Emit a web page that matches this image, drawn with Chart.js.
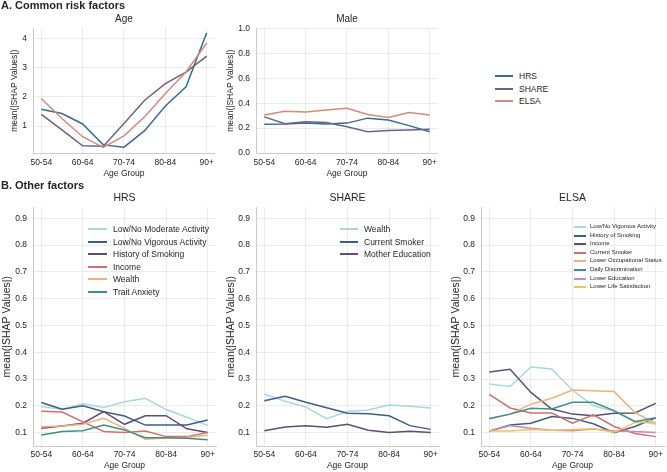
<!DOCTYPE html>
<html><head><meta charset="utf-8">
<script src="https://cdn.jsdelivr.net/npm/chart.js@4/dist/chart.umd.min.js"></script>
<style>
html,body{margin:0;padding:0;background:#fff;}
body{width:667px;height:472px;position:relative;overflow:hidden;font-family:"Liberation Sans",Arial,Helvetica,sans-serif;color:#262626;}
canvas{position:absolute;}
.hd{position:absolute;font-weight:bold;font-size:11px;line-height:11px;white-space:nowrap;z-index:5;}
.lg{position:absolute;white-space:nowrap;z-index:5;}
</style></head><body>
<div class="hd" style="left:1px;top:0px">A. Common risk factors</div>
<div class="hd" style="left:1px;top:180px">B. Other factors</div>
<canvas id="cAge"></canvas>
<canvas id="cMale"></canvas>
<canvas id="cHRS"></canvas>
<canvas id="cSHARE"></canvas>
<canvas id="cELSA"></canvas>
<script>
// ---------- data ----------
const ageGroups = ['50-54','55-59','60-64','65-69','70-74','75-79','80-84','85-89','90+'];
const xTickIdx = [0, 2, 4, 6, 8];

const studies = ['HRS', 'SHARE', 'ELSA'];
const studyColors = ['#3b6b8f', '#6b6385', '#d48b7e'];

const ageHRS   = [1.58, 1.43, 1.07, 0.35, 0.27, 0.84, 1.69, 2.35, 4.21];
const ageSHARE = [1.40, 0.87, 0.32, 0.30, 1.09, 1.89, 2.46, 2.86, 3.41];
const ageELSA  = [1.95, 1.26, 0.63, 0.26, 0.66, 1.32, 2.12, 2.86, 3.86];

const maleHRS   = [0.230, 0.233, 0.240, 0.233, 0.240, 0.280, 0.265, 0.220, 0.170];
const maleSHARE = [0.290, 0.235, 0.250, 0.245, 0.210, 0.170, 0.180, 0.185, 0.190];
const maleELSA  = [0.305, 0.335, 0.330, 0.345, 0.360, 0.310, 0.285, 0.325, 0.305];

const ageTicks   = [1, 2, 3, 4];
const maleTicks  = [0.0, 0.2, 0.4, 0.6, 0.8, 1.0];
const otherTicks = [0.1, 0.2, 0.3, 0.4, 0.5, 0.6, 0.7, 0.8, 0.9];

const palette = ['#a9d6e3', '#3d5e88', '#5d4d78', '#d0706b', '#efb07e', '#3e8e86', '#c48bb8', '#f1c35c'];

const hrsNames = ['Low/No Moderate Activity', 'Low/No Vigorous Activity', 'History of Smoking', 'Income', 'Wealth', 'Trait Anxiety'];
const hrsModerate = [0.197, 0.186, 0.208, 0.194, 0.215, 0.228, 0.186, 0.157, 0.127];
const hrsVigorous = [0.212, 0.187, 0.200, 0.178, 0.162, 0.128, 0.128, 0.128, 0.147];
const hrsSmoking  = [0.116, 0.125, 0.135, 0.178, 0.131, 0.163, 0.163, 0.114, 0.100];
const hrsIncome   = [0.180, 0.177, 0.140, 0.104, 0.100, 0.106, 0.085, 0.085, 0.100];
const hrsWealth   = [0.122, 0.125, 0.131, 0.153, 0.116, 0.075, 0.080, 0.083, 0.090];
const hrsAnxiety  = [0.091, 0.104, 0.107, 0.128, 0.110, 0.081, 0.081, 0.079, 0.073];

const shareNames = ['Wealth', 'Current Smoker', 'Mother Education'];
const shareWealth    = [0.244, 0.217, 0.195, 0.152, 0.179, 0.184, 0.203, 0.198, 0.192];
const shareSmoker    = [0.219, 0.236, 0.213, 0.193, 0.172, 0.170, 0.163, 0.126, 0.112];
const shareMotherEdu = [0.107, 0.121, 0.126, 0.120, 0.131, 0.109, 0.100, 0.105, 0.100];

const elsaNames = ['Low/No Vigorous Activity', 'History of Smoking', 'Income', 'Current Smoker', 'Lower Occupational Status', 'Daily Discrimination', 'Lower Education', 'Lower Life Satisfaction'];
const elsaVigorous = [0.281, 0.272, 0.345, 0.337, 0.258, 0.200, 0.180, 0.143, 0.132];
const elsaSmoking  = [0.105, 0.128, 0.135, 0.160, 0.153, 0.133, 0.100, 0.123, 0.155];
const elsaIncome   = [0.326, 0.336, 0.250, 0.188, 0.169, 0.163, 0.172, 0.173, 0.209];
const elsaCurSmoke = [0.243, 0.192, 0.173, 0.173, 0.135, 0.166, 0.123, 0.097, 0.085];
const elsaOccup    = [0.151, 0.169, 0.206, 0.228, 0.259, 0.256, 0.253, 0.175, 0.133];
const elsaDiscrim  = [0.153, 0.169, 0.191, 0.188, 0.213, 0.213, 0.182, 0.141, 0.155];
const elsaEduc     = [0.105, 0.126, 0.116, 0.109, 0.107, 0.113, 0.106, 0.104, 0.100];
const elsaLifeSat  = [0.106, 0.106, 0.112, 0.109, 0.112, 0.114, 0.101, 0.137, 0.140];

// ---------- style ----------
const FF = '"Liberation Sans", Arial, Helvetica, sans-serif';
const TXT = '#262626';
const GRID = '#ebebeb';
const SPINE = '#cccccc';

// centre each panel title over its plot area (as matplotlib does)
Chart.register({
  id: 'centerTitle',
  afterLayout(chart) {
    const t = chart.titleBlock, a = chart.chartArea;
    if (t && a) { t.left = a.left; t.right = a.right; t.width = a.right - a.left; }
  }
});

function panel(id, left, top, height, title, names, series, colors, yMin, yMax, yTicks, yDec, o) {
  const W = 33, PW = 184, R = 2;
  const cv = document.getElementById(id);
  cv.width = W + PW + R; cv.height = height;
  cv.style.left = left + 'px'; cv.style.top = top + 'px';
  new Chart(cv, {
    type: 'line',
    data: {
      datasets: series.map((s, i) => ({
        label: names[i],
        data: s.map((v, j) => ({ x: j, y: v })),
        borderColor: colors[i], backgroundColor: colors[i],
        borderWidth: 1.5, pointRadius: 0, tension: 0, fill: false, order: -i
      }))
    },
    options: {
      responsive: false, animation: false, devicePixelRatio: 1,
      layout: { padding: { left: 0, right: R, top: 0, bottom: 0 } },
      plugins: {
        legend: { display: false }, tooltip: { enabled: false },
        title: { display: true, text: title, color: TXT,
          font: { family: FF, size: o.tf, weight: 'normal' },
          padding: { top: o.tt, bottom: o.tb } }
      },
      scales: {
        x: {
          type: 'linear', min: -0.4, max: 8.4, bounds: 'data',
          afterBuildTicks: s => { s.ticks = xTickIdx.map(v => ({ value: v })); },
          afterFit: s => { s.height = o.xh; },
          ticks: { callback: v => ageGroups[v], color: TXT, font: { family: FF, size: 8.5 }, padding: o.xp, maxRotation: 0, autoSkip: false },
          grid: { color: GRID, drawTicks: false, lineWidth: 1 },
          border: { color: SPINE, width: 1 },
          title: { display: true, text: 'Age Group', color: TXT, font: { family: FF, size: 8.5 }, padding: { top: 0, bottom: o.xtb } }
        },
        y: {
          type: 'linear', min: yMin, max: yMax, bounds: 'data',
          afterBuildTicks: s => { s.ticks = yTicks.map(v => ({ value: v })); },
          afterFit: s => { s.width = W; },
          ticks: { callback: v => v.toFixed(yDec), color: TXT, font: { family: FF, size: 8.5 }, padding: 6 },
          grid: { color: GRID, drawTicks: false, lineWidth: 1 },
          border: { color: SPINE, width: 1 },
          title: { display: true, text: 'mean(|SHAP Values|)', color: TXT, font: { family: FF, size: o.yf }, padding: { top: o.ytp, bottom: 0 } }
        }
      }
    }
  });
}

function legend(lineX, lineLen, textX, y0, pitch, fs, names, colors) {
  names.forEach((n, i) => {
    const cy = y0 + i * pitch, h = Math.round(fs * 1.2);
    const d = document.createElement('div');
    d.className = 'lg';
    d.style.left = lineX + 'px'; d.style.top = Math.round(cy - h / 2) + 'px';
    d.style.height = h + 'px'; d.style.fontSize = fs + 'px'; d.style.lineHeight = h + 'px';
    const ln = document.createElement('span');
    ln.style.cssText = `position:absolute;left:0;top:${Math.round(h / 2) - 1}px;width:${lineLen}px;height:2px;background:${colors[i]};`;
    const tx = document.createElement('span');
    tx.style.cssText = `position:absolute;left:${textX - lineX}px;top:0;`;
    tx.textContent = n;
    d.append(ln, tx);
    document.body.append(d);
  });
}

const rowA  = { tf: 10, tt: 13, tb: 3.5, xh: 28, xp: 5, xtb: 2, yf: 8.5, ytp: 10 };
const rowA2 = Object.assign({}, rowA, { ytp: 3 });
const rowB  = { tf: 10.5, tt: 5.7, tb: 3.2, xh: 26, xp: 4, xtb: 1, yf: 10.5, ytp: 2 };
const rowB1 = Object.assign({}, rowB, { ytp: 0.8 });

panel('cAge', 0, 0, 181, 'Age', studies, [ageHRS, ageSHARE, ageELSA], studyColors, 0.07, 4.36, ageTicks, 0, rowA);
panel('cMale', 223, 0, 181, 'Male', studies, [maleHRS, maleSHARE, maleELSA], studyColors, 0, 1.0, maleTicks, 1, rowA2);
panel('cHRS', 0, 186, 286, 'HRS', hrsNames,
  [hrsModerate, hrsVigorous, hrsSmoking, hrsIncome, hrsWealth, hrsAnxiety], palette, 0.05, 0.94, otherTicks, 1, rowB1);
panel('cSHARE', 223, 186, 286, 'SHARE', shareNames,
  [shareWealth, shareSmoker, shareMotherEdu], palette, 0.05, 0.94, otherTicks, 1, rowB);
panel('cELSA', 448, 186, 286, 'ELSA', elsaNames,
  [elsaVigorous, elsaSmoking, elsaIncome, elsaCurSmoke, elsaOccup, elsaDiscrim, elsaEduc, elsaLifeSat], palette, 0.05, 0.94, otherTicks, 1, rowB);

legend(495, 18, 519, 76, 12.6, 8.5, studies, studyColors);
legend(88, 18.5, 113, 229.2, 12.5, 8.5, hrsNames, palette);
legend(340, 18, 364, 229.1, 12.6, 8.5, shareNames, palette);
legend(574, 12, 590, 226.5, 8.6, 6, elsaNames, palette);
</script>
</body></html>
